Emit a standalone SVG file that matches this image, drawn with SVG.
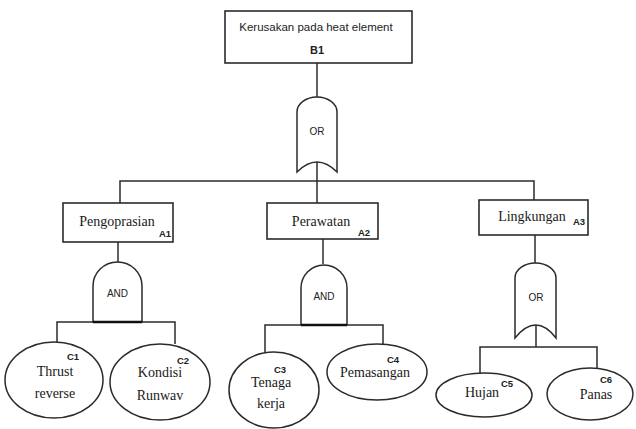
<svg xmlns="http://www.w3.org/2000/svg" width="636" height="429" viewBox="0 0 636 429">
<style>
.ln{fill:none;stroke:#2b2b2b;stroke-width:1.5}
.bx{fill:#fff;stroke:#2b2b2b;stroke-width:1.6}
.gt{fill:#fff;stroke:#2b2b2b;stroke-width:1.5}
.ser{font-family:"Liberation Serif","Times New Roman",serif;font-size:14px;fill:#1a1a1a;text-anchor:middle}
.san{font-family:"Liberation Sans",Arial,sans-serif;font-size:10px;fill:#222;text-anchor:middle}
.ttl{font-family:"Liberation Sans",Arial,sans-serif;font-size:11.5px;fill:#222;text-anchor:middle}
.tag{font-family:"Liberation Sans",Arial,sans-serif;font-size:9.5px;font-weight:bold;fill:#222;text-anchor:middle}
</style>
<rect width="636" height="429" fill="#fff"/>
<g id="connectors">
<path class="ln" d="M317,63 V97"/>
<path class="ln" d="M317,162 V203"/>
<path class="ln" d="M120,203 V181 H534 V200"/>
<path class="ln" d="M118,242 V262"/>
<path class="ln" d="M57,342 V322 H175 V344"/>
<path class="ln" d="M323,239 V264"/>
<path class="ln" d="M265,353 V325 H383 V344"/>
<path class="ln" d="M535,235 V263"/>
<path class="ln" d="M536,325 V347"/>
<path class="ln" d="M480,373 V347 H597 V368"/>
</g>
<g id="B1">
<rect class="bx" x="225" y="11" width="187" height="52"/>
<text class="ttl" x="316" y="31">Kerusakan pada heat element</text>
<text class="ttl" x="317" y="54" style="font-weight:bold;font-size:11px">B1</text>
</g>
<g id="gate-or-top">
<path class="gt" d="M297,172 V112 A20,15 0 0 1 337,112 V172 Q317,152 297,172 Z"/>
<text class="san" x="317" y="135">OR</text>
</g>
<g id="A1">
<rect class="bx" x="63" y="203" width="110" height="39"/>
<text class="ser" x="117" y="226">Pengoprasian</text>
<text class="tag" x="165" y="237">A1</text>
</g>
<g id="gate-and-1">
<path class="gt" d="M93,322 V286 A24.5,24 0 0 1 142,286 V322 Z"/>
<path d="M93,322 H142" stroke="#111" stroke-width="2.5"/>
<text class="san" x="117.5" y="297">AND</text>
</g>
<g id="C1">
<ellipse class="gt" cx="54" cy="380" rx="49" ry="38"/>
<text class="ser" x="55" y="376">Thrust</text>
<text class="ser" x="55" y="398">reverse</text>
<text class="tag" x="73" y="360">C1</text>
</g>
<g id="C2">
<ellipse class="gt" cx="160" cy="382" rx="50" ry="38"/>
<text class="ser" x="160" y="377">Kondisi</text>
<text class="ser" x="160" y="400">Runwav</text>
<text class="tag" x="183" y="364">C2</text>
</g>
<g id="A2">
<rect class="bx" x="267" y="203" width="111" height="36"/>
<text class="ser" x="321" y="226">Perawatan</text>
<text class="tag" x="364" y="236">A2</text>
</g>
<g id="gate-and-2">
<path class="gt" d="M301,325 V288 A23,23 0 0 1 347,288 V325 Z"/>
<path d="M301,325 H347" stroke="#111" stroke-width="2.5"/>
<text class="san" x="324" y="300">AND</text>
</g>
<g id="C3">
<ellipse class="gt" cx="274" cy="390" rx="45" ry="38"/>
<text class="ser" x="271" y="387">Tenaga</text>
<text class="ser" x="271" y="408">kerja</text>
<text class="tag" x="280" y="373">C3</text>
</g>
<g id="C4">
<ellipse class="gt" cx="377" cy="372" rx="50" ry="28"/>
<text class="ser" x="375" y="377">Pemasangan</text>
<text class="tag" x="393" y="363">C4</text>
</g>
<g id="A3">
<rect class="bx" x="479" y="200" width="109" height="35"/>
<text class="ser" x="532" y="221">Lingkungan</text>
<text class="tag" x="579" y="225">A3</text>
</g>
<g id="gate-or-3">
<path class="gt" d="M515,338 V278 A20.5,15 0 0 1 556,278 V338 Q536,312 515,338 Z"/>
<text class="san" x="536" y="301">OR</text>
</g>
<g id="C5">
<ellipse class="gt" cx="484" cy="395" rx="48" ry="22"/>
<text class="ser" x="482" y="397">Hujan</text>
<text class="tag" x="507" y="387">C5</text>
</g>
<g id="C6">
<ellipse class="gt" cx="590" cy="394" rx="43" ry="26"/>
<text class="ser" x="596" y="399">Panas</text>
<text class="tag" x="606" y="383">C6</text>
</g>
</svg>
